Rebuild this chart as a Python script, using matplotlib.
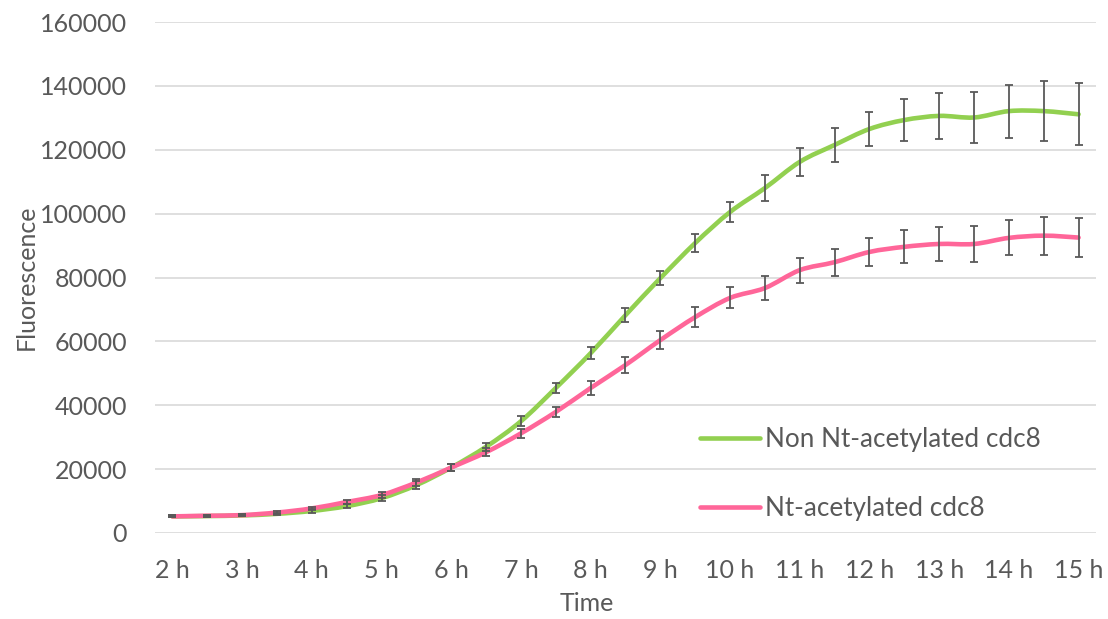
import numpy as np
import matplotlib
matplotlib.use("Agg")
import matplotlib.pyplot as plt
from matplotlib.path import Path
from matplotlib.patches import PathPatch
from matplotlib.lines import Line2D

# Sampling times (hours) and readings
hours = [2, 2.5, 3, 3.5, 4, 4.5, 5, 5.5, 6, 6.5, 7, 7.5, 8, 8.5, 9,
         9.5, 10, 10.5, 11, 11.5, 12, 12.5, 13, 13.5, 14, 14.5, 15]
tick_hours = list(range(2, 16))
tick_labels = [f"{h} h" for h in tick_hours]

non_acet_mean = [5200, 5300, 5500, 6000, 6900, 8400, 10900, 15000, 20500, 27000,
                 35000, 45400, 56300, 68200, 79800, 90800, 100500, 108000, 116200,
                 121500, 126500, 129300, 130600, 130100, 132100, 132100, 131100]
non_acet_err = [300, 300, 300, 400, 500, 700, 1000, 1200, 1200, 1300, 1500, 1600,
                1800, 2100, 2300, 2800, 3100, 4000, 4400, 5300, 5300, 6600, 7200,
                8100, 8300, 9300, 9700]

acet_mean = [5200, 5400, 5600, 6400, 7700, 9700, 11900, 15800, 20500, 25300,
             31200, 37900, 45400, 52600, 60400, 67600, 73600, 76700, 82300,
             84800, 88000, 89600, 90500, 90500, 92400, 93100, 92500]
acet_err = [300, 300, 300, 400, 500, 700, 900, 1100, 1200, 1300, 1400, 1700,
            2100, 2500, 2900, 3200, 3300, 3900, 3900, 4200, 4500, 5200, 5200,
            5700, 5500, 5900, 6200]

GREEN = "#92D050"
PINK = "#FF6699"
TEXT = "#595959"
GRID = "#D9D9D9"
ERR = "#595959"

plt.rcParams["font.family"] = ["Lato", "DejaVu Sans"]


def smooth_path(x, y):
    """Cubic Bezier path through the points (Catmull-Rom style smoothing)."""
    p = np.column_stack([x, y]).astype(float)
    n = len(p)
    verts = [p[0]]
    codes = [Path.MOVETO]
    for i in range(n - 1):
        p0 = p[i - 1] if i > 0 else p[i]
        p1 = p[i]
        p2 = p[i + 1]
        p3 = p[i + 2] if i + 2 < n else p[i + 1]
        c1 = p1 + (p2 - p0) / 6.0
        c2 = p2 - (p3 - p1) / 6.0
        verts += [c1, c2, p2]
        codes += [Path.CURVE4] * 3
    return Path(verts, codes)


fig = plt.figure(figsize=(11.08, 6.19), dpi=100)
ax = fig.add_axes([155 / 1108, 1 - 533 / 619, (1096 - 155) / 1108, (533 - 22) / 619])

series = [
    (non_acet_mean, non_acet_err, GREEN, "Non Nt-acetylated cdc8"),
    (acet_mean, acet_err, PINK, "Nt-acetylated cdc8"),
]

for mean, err, color, label in series:
    ax.add_patch(PathPatch(smooth_path(hours, mean), facecolor="none",
                           edgecolor=color, lw=3.3, capstyle="round",
                           joinstyle="round", zorder=3))

for mean, err, color, label in series:
    ax.errorbar(hours, mean, yerr=err, fmt="none", ecolor=ERR, elinewidth=1.3,
                capsize=3.2, capthick=1.3, zorder=4)

ax.set_xlim(1.75, 15.25)
ax.set_ylim(0, 160000)
ax.set_yticks(np.arange(0, 160001, 20000))
ax.set_xticks(tick_hours)
ax.set_xticklabels(tick_labels)
ax.yaxis.grid(True, color=GRID, lw=1.2)
ax.set_axisbelow(True)
for s in ax.spines.values():
    s.set_visible(False)
ax.tick_params(axis="both", length=0, colors=TEXT, labelsize=18)
ax.tick_params(axis="y", pad=20)
ax.tick_params(axis="x", pad=19)

ax.set_ylabel("Fluorescence", color=TEXT, fontsize=18)
ax.yaxis.set_label_coords(-117 / 941, 0.5)
ax.set_xlabel("Time", color=TEXT, fontsize=18)
ax.xaxis.set_label_coords((587 - 155) / 941, -59 / 511)

handles = [Line2D([], [], color=c, lw=3.3, solid_capstyle="round") for _, _, c, _ in series]
labels = [lab for _, _, _, lab in series]
leg = ax.legend(handles, labels, loc="upper left",
                bbox_to_anchor=((700 - 155) / 941, 1 - (427 - 22) / 511),
                frameon=False, fontsize=18.8, labelcolor=TEXT, handlelength=2.3,
                handletextpad=0.2, labelspacing=1.7, borderaxespad=0, borderpad=0)

fig.savefig("out.png", dpi=100, facecolor="white")
